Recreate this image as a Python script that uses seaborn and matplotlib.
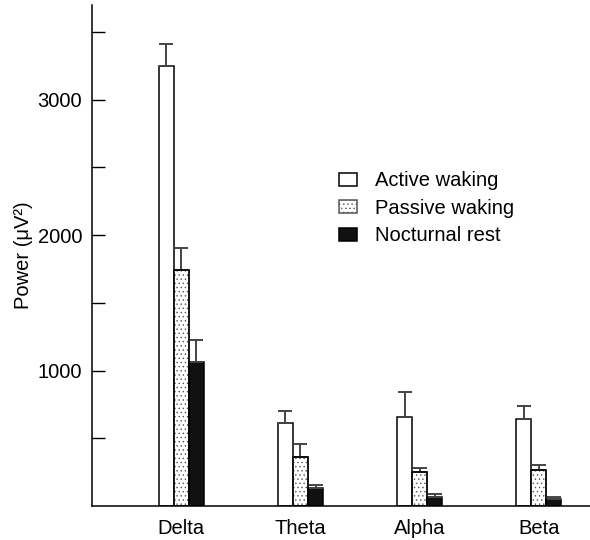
import matplotlib
matplotlib.use("Agg")
import matplotlib.pyplot as plt
from matplotlib.patches import Patch
import seaborn as sns
import pandas as pd
import numpy as np

bands = ["Delta", "Theta", "Alpha", "Beta"]
conditions = ["Active waking", "Passive waking", "Nocturnal rest"]
active = [3250, 610, 660, 640]
active_err = [160, 90, 180, 95]
passive = [1740, 365, 250, 265]
passive_err = [165, 95, 30, 35]
nocturnal = [1060, 130, 70, 55]
nocturnal_err = [165, 22, 15, 8]
yticks = [500, 1000, 1500, 2000, 2500, 3000, 3500]
yticklabels = ["", "1000", "", "2000", "", "3000", ""]

sns.set_style("ticks")
plt.rcParams["font.family"] = ["Liberation Sans", "DejaVu Sans"]
plt.rcParams["hatch.linewidth"] = 0.5
for k in ["text.color", "axes.labelcolor", "xtick.color", "ytick.color", "axes.edgecolor"]:
    plt.rcParams[k] = "black"

values = [active, passive, nocturnal]
errors = [active_err, passive_err, nocturnal_err]
df = pd.DataFrame({
    "band": [b for c in conditions for b in bands],
    "condition": [c for c in conditions for _ in bands],
    "power": [v for vals in values for v in vals],
})

fig = plt.figure(figsize=(5.9, 5.4), dpi=100)
ax = fig.add_axes([92 / 590, 1 - 506 / 540, 1 - 92 / 590, 501 / 540])

palette = {"Active waking": "white", "Passive waking": "white", "Nocturnal rest": "#111111"}
sns.barplot(data=df, x="band", y="power", hue="condition", hue_order=conditions,
            order=bands, palette=palette, edgecolor="black", linewidth=1.1,
            width=0.38, errorbar=None, legend=False, ax=ax, saturation=1)

HATCH_GRAY = "#555555"
for cont, cond, err in zip(ax.containers, conditions, errors):
    xs = [p.get_x() + p.get_width() / 2 for p in cont]
    hs = [p.get_height() for p in cont]
    ws = [p.get_width() for p in cont]
    if cond == "Passive waking":
        for p in cont:
            p.set_hatch("....")
            p.set_edgecolor(HATCH_GRAY)
        # crisp black outline on top of the gray-hatched bars
        ax.bar(xs, hs, width=ws, facecolor="none", edgecolor="black", linewidth=1.1, zorder=3)
    ax.errorbar(xs, hs, yerr=[np.zeros(len(err)), err], fmt="none",
                ecolor="#444444", elinewidth=1.4, capsize=5, capthick=1.4, zorder=1)

ax.set_xlim(-0.75, 3.43)
ax.set_ylim(0, 3700)
ax.set_yticks(yticks)
ax.set_yticklabels(yticklabels)
ax.tick_params(axis="y", direction="in", length=9.5, width=1, pad=7, labelsize=14.5)
ax.tick_params(axis="x", length=0, pad=9, labelsize=14.5)
ax.set_xlabel("")
ax.set_ylabel("Power (μV²)", fontsize=14.5)
ax.yaxis.set_label_coords(-0.118, 0.5)
sns.despine(ax=ax)
for s in ["left", "bottom"]:
    ax.spines[s].set_linewidth(1.1)

handles = [
    Patch(facecolor="white", edgecolor="black", linewidth=1.1),
    Patch(facecolor="white", edgecolor=HATCH_GRAY, linewidth=1.1, hatch="...."),
    Patch(facecolor="#111111", edgecolor="black", linewidth=1.1),
]
ax.legend(handles, conditions, loc="upper left", bbox_to_anchor=(0.496, 0.668),
          frameon=False, fontsize=14.5, borderaxespad=0, borderpad=0,
          handlelength=0.87, handleheight=0.63, handletextpad=0.9, labelspacing=0.42)

fig.savefig("out.png", dpi=100)
